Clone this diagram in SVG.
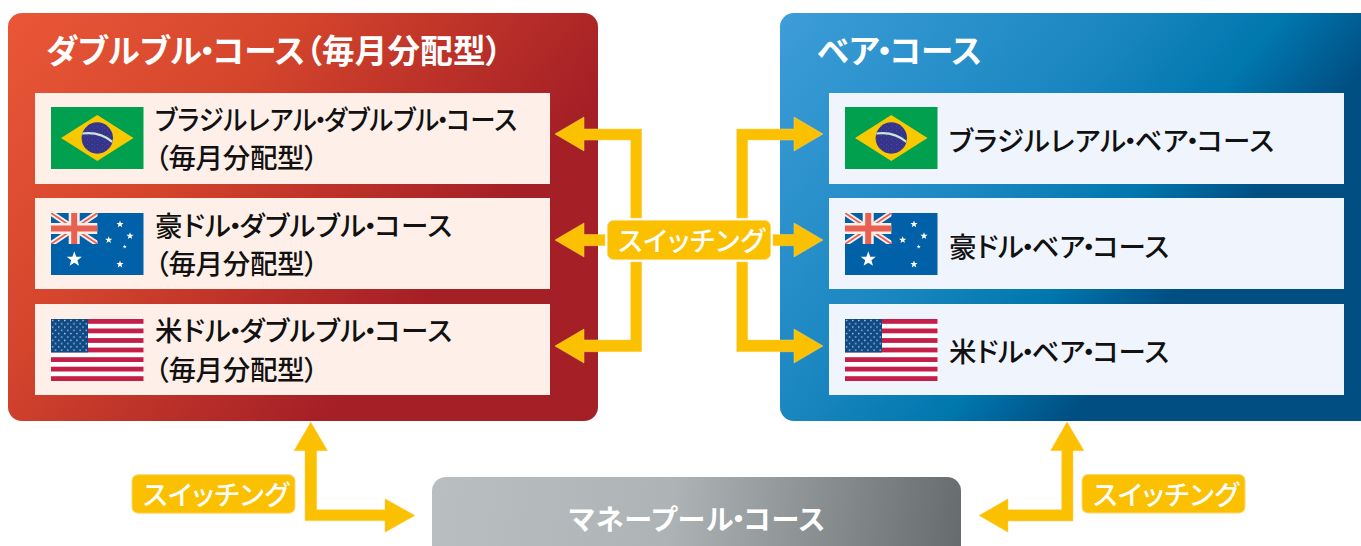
<svg xmlns="http://www.w3.org/2000/svg" xmlns:xlink="http://www.w3.org/1999/xlink" width="1361" height="546" viewBox="0 0 1361 546">
<style>
text{font-family:"Noto Sans CJK JP","Noto Sans",sans-serif;font-feature-settings:"palt"}
.title{font-size:32.5px;font-weight:700;fill:#fff}
.row{font-size:27.5px;font-weight:500;fill:#111}
.sw{font-size:27px;font-weight:500;fill:#fff}
.mm{font-size:28px;font-weight:700;fill:#fff}
.lbl{fill:#fbc000;stroke:#fdd873;stroke-width:1}
.arr{fill:#fbc000;stroke:#fcd25a;stroke-width:.5}
.rl{fill:#fef0e9}
.rr{fill:#f0f5fd}
</style>
<defs>
<linearGradient id="gRed" gradientUnits="userSpaceOnUse" x1="8" y1="13" x2="391" y2="336"><stop offset="0" stop-color="#ea5737"/><stop offset=".45" stop-color="#d4452c"/><stop offset="1" stop-color="#a51f26"/></linearGradient>
<linearGradient id="gBlue" gradientUnits="userSpaceOnUse" x1="780" y1="13" x2="1150" y2="325"><stop offset="0" stop-color="#3d9dd8"/><stop offset=".55" stop-color="#1a86c0"/><stop offset=".8" stop-color="#0077ae"/><stop offset="1" stop-color="#004e82"/></linearGradient>
<linearGradient id="gGray" gradientUnits="userSpaceOnUse" x1="432" y1="477" x2="961" y2="546"><stop offset="0" stop-color="#b9bfc1"/><stop offset=".45" stop-color="#aeb3b5"/><stop offset="1" stop-color="#666b6e"/></linearGradient>
<polygon id="star" points="0,-1 .24,-.33 .95,-.31 .39,.13 .59,.81 0,.42 -.59,.81 -.39,.13 -.95,-.31 -.24,-.33" fill="#fff"/>
<pattern id="usStars" patternUnits="userSpaceOnUse" x="0" y="0" width="6.1" height="6.6">
<circle cx="1.6" cy="1.5" r=".75" fill="#cfe0ee"/><circle cx="4.65" cy="4.8" r=".75" fill="#cfe0ee"/>
</pattern>
<pattern id="brStars" patternUnits="userSpaceOnUse" width="5" height="4.5">
<circle cx="1.2" cy="1.2" r=".35" fill="#9d9fd0"/><circle cx="3.7" cy="3.4" r=".3" fill="#8f90c8"/>
</pattern>
<clipPath id="brClip"><circle cx="46.3" cy="31" r="15.7"/></clipPath>
<clipPath id="auClip"><rect width="46.5" height="31"/></clipPath>
<g id="fBR">
<rect width="92.5" height="62" fill="#00a04f"/>
<polygon points="10,31 46.3,8 82.5,31 46.3,54" fill="#f8c800"/>
<circle cx="46.3" cy="31" r="15.7" fill="#35348a"/>
<circle cx="46.3" cy="31" r="15.7" fill="url(#brStars)"/>
<path d="M31,26.5 Q49,24 61.5,35" fill="none" stroke="#cde6d8" stroke-width="2.2" clip-path="url(#brClip)"/>
</g>
<g id="fAU">
<rect width="92.5" height="62" fill="#0060a8"/>
<g clip-path="url(#auClip)">
<path d="M0,0L46.5,31M46.5,0L0,31" stroke="#fbeeea" stroke-width="5.5"/>
<path d="M0,0L46.5,31M46.5,0L0,31" stroke="#e8604f" stroke-width="1.8"/>
<rect x="0" y="10" width="46.5" height="11" fill="#fbeeea"/><rect x="17.7" y="0" width="11" height="31" fill="#fbeeea"/>
<rect x="0" y="12.5" width="46.5" height="6" fill="#e8604f"/><rect x="20.2" y="0" width="6" height="31" fill="#e8604f"/>
</g>
<use xlink:href="#star" href="#star" transform="translate(69,11.2) scale(3.8)"/>
<use xlink:href="#star" href="#star" transform="translate(79,23) scale(3.8)"/>
<use xlink:href="#star" href="#star" transform="translate(57.7,27) scale(3.8)"/>
<use xlink:href="#star" href="#star" transform="translate(73.7,33.7) scale(2.2)"/>
<use xlink:href="#star" href="#star" transform="translate(69,51.3) scale(3.8)"/>
<use xlink:href="#star" href="#star" transform="translate(23.3,46.3) scale(8)"/>
</g>
<g id="fUS">
<rect width="92.5" height="62" fill="#fff"/>
<g fill="#c41f48"><rect y="0" width="92.5" height="4.8"/><rect y="9.5" width="92.5" height="4.8"/><rect y="19.1" width="92.5" height="4.8"/><rect y="28.6" width="92.5" height="4.8"/><rect y="38.2" width="92.5" height="4.8"/><rect y="47.7" width="92.5" height="4.8"/><rect y="57.2" width="92.5" height="4.8"/></g>
<rect width="37" height="33.4" fill="#0f4a85"/>
<rect width="37" height="33.4" fill="url(#usStars)"/>
</g>
</defs>

<g id="panel-double-bull">
<rect x="8" y="13" width="590" height="408" rx="14" fill="url(#gRed)"/>
<text class="title" x="46" y="63" dx="0 0 0 0 0 -3 -3" textLength="456">ダブルブル・コース（毎月分配型）</text>
</g>
<g id="panel-bear">
<rect x="780" y="13" width="610" height="408" rx="14" fill="url(#gBlue)"/>
<text class="title" x="817" y="63" dx="0 0 -3 -3" textLength="165">ベア・コース</text>
</g>
<g id="node-brl-bull">
<rect class="rl" x="35" y="93" width="515" height="91"/>
<use href="#fBR" x="51" y="107"/>
<text class="row" x="155" y="130" dx="0 0 0 0 0 0 0 -3 -3 0 0 0 0 -3 -3" textLength="362" lengthAdjust="spacingAndGlyphs">ブラジルレアル・ダブルブル・コース</text>
<text class="row" x="155" y="168" textLength="163">（毎月分配型）</text>
</g>
<g id="node-aud-bull">
<rect class="rl" x="35" y="198" width="515" height="91"/>
<use href="#fAU" x="51" y="213"/>
<text class="row" x="155" y="236" dx="0 0 0 -3 -3 0 0 0 0 -3 -3" textLength="297">豪ドル・ダブルブル・コース</text>
<text class="row" x="155" y="274" textLength="163">（毎月分配型）</text>
</g>
<g id="node-usd-bull">
<rect class="rl" x="35" y="304" width="515" height="91"/>
<use href="#fUS" x="51" y="319"/>
<text class="row" x="155" y="341" dx="0 0 0 -3 -3 0 0 0 0 -3 -3" textLength="297">米ドル・ダブルブル・コース</text>
<text class="row" x="155" y="380" textLength="163">（毎月分配型）</text>
</g>
<g id="node-brl-bear">
<rect class="rr" x="829" y="93" width="515" height="91"/>
<use href="#fBR" x="845" y="107"/>
<text class="row" x="949" y="151" dx="0 0 0 0 0 0 0 -3 -3 0 -3 -3" textLength="325">ブラジルレアル・ベア・コース</text>
</g>
<g id="node-aud-bear">
<rect class="rr" x="829" y="198" width="515" height="91"/>
<use href="#fAU" x="845" y="213"/>
<text class="row" x="949" y="257" dx="0 0 0 -3 -3 0 -3 -3" textLength="220">豪ドル・ベア・コース</text>
</g>
<g id="node-usd-bear">
<rect class="rr" x="829" y="304" width="515" height="91"/>
<use href="#fUS" x="845" y="319"/>
<text class="row" x="949" y="362" dx="0 0 0 -3 -3 0 -3 -3" textLength="220">米ドル・ベア・コース</text>
</g>
<g id="node-money-pool">
<rect x="432" y="477" width="529" height="90" rx="14" fill="url(#gGray)"/>
<text class="mm" x="569" y="530" dx="0 0 0 0 0 0 -3 -3" textLength="256">マネープール・コース</text>
</g>
<g id="connectors">
<polygon class="arr" points="555,134 584,117 584,129 641.7,129 641.7,218 630.7,218 630.7,140 584,140 584,151"/>
<polygon class="arr" points="555,240 584,223 584,234.5 605,234.5 605,245.7 584,245.7 584,257"/>
<polygon class="arr" points="555,346 584,329 584,340 630.7,340 630.7,262 641.7,262 641.7,351.7 584,351.7 584,363"/>
<polygon class="arr" points="823,134 794,117 794,129 736.7,129 736.7,218 747.7,218 747.7,140 794,140 794,151"/>
<polygon class="arr" points="823,240 794,223 794,234.5 773,234.5 773,245.7 794,245.7 794,257"/>
<polygon class="arr" points="823,346 794,329 794,340 747.7,340 747.7,262 736.7,262 736.7,351.7 794,351.7 794,363"/>
<polygon class="arr" points="310.8,422 327.6,450.7 316.7,450.7 316.7,509.7 385,509.7 385,498.7 415,515.5 385,532.3 385,520.7 305,520.7 305,450.7 294,450.7"/>
<polygon class="arr" points="1067,421.7 1084,450.7 1073,450.7 1073,521 1008,521 1008,532.3 979,515.5 1008,498.7 1008,509.7 1061.7,509.7 1061.7,450.7 1050.5,450.7"/>
</g>
<g id="label-center">
<rect class="lbl" x="607.5" y="220.5" width="163" height="39" rx="6"/>
<text class="sw" x="618" y="251" textLength="147">スイッチング</text>
</g>
<g id="label-left">
<rect class="lbl" x="132" y="474.7" width="163" height="38.5" rx="6"/>
<text class="sw" x="143" y="505" textLength="146">スイッチング</text>
</g>
<g id="label-right">
<rect class="lbl" x="1082" y="474.5" width="163" height="38.5" rx="6"/>
<text class="sw" x="1093" y="505" textLength="146">スイッチング</text>
</g>
</svg>
